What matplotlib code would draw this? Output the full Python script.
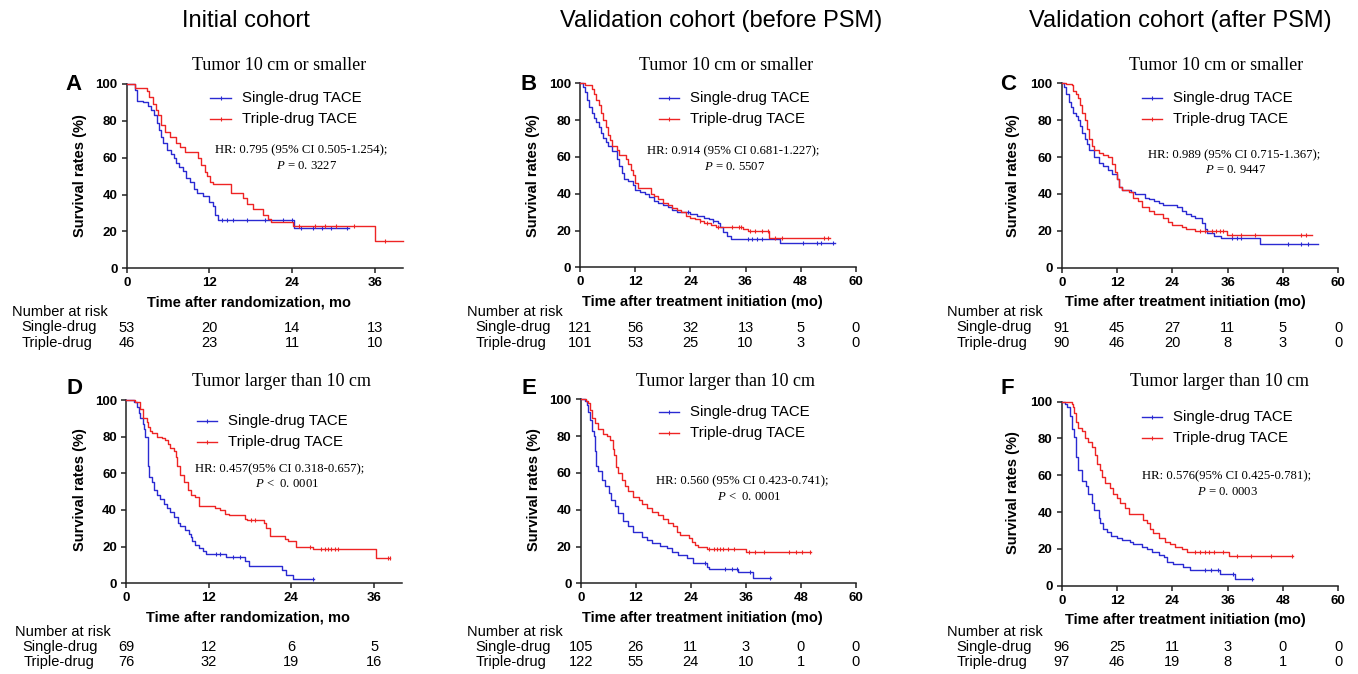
import matplotlib
matplotlib.use('Agg')
import matplotlib.pyplot as plt
from matplotlib.lines import Line2D
import matplotlib.transforms as mtransforms
import numpy as np

plt.rcParams['font.family'] = ['Liberation Sans', 'DejaVu Sans']
plt.rcParams['mathtext.fontset'] = 'custom'
plt.rcParams['mathtext.it'] = 'Liberation Serif:italic'
plt.rcParams['mathtext.rm'] = 'Liberation Serif'

# ---------------- data ----------------
column_titles = ["Initial cohort", "Validation cohort (before PSM)", "Validation cohort (after PSM)"]
series_names = ["Single-drug TACE", "Triple-drug TACE"]
risk_names = ["Single-drug", "Triple-drug"]

# Kaplan-Meier step points: (month, survival %)
A_single = [(0,100),(1.2,97),(1.5,91),(2.4,90),(3.1,88),(3.5,86),(4.0,83),(4.4,79),(4.7,75),(5.0,71),(5.3,68),(5.8,64),(6.4,62),(6.8,60),(7.2,57),(7.6,55),(8.1,53),(8.6,49),(9.2,47),(9.7,43),(10.2,41),(11.0,39),(12.0,36),(12.5,34),(12.8,29),(13.2,26),(24.3,22),(32.3,22)]
A_single_cens = [13.8, 14.5, 15.4, 17.5, 20.0, 22.7, 24.0, 25.3, 27.0, 28.3, 29.6, 32.0]
A_triple = [(0,100),(1.2,98),(3.0,96),(3.3,93),(3.8,89),(4.2,86),(4.6,83),(5.0,78),(5.6,74),(6.3,71),(7.2,68),(7.8,66),(8.4,63),(10.4,60),(10.8,56),(11.3,52.5),(11.7,50),(12.1,47),(12.5,45.5),(15.1,41),(16.9,38),(17.4,35),(18.3,32),(19.8,29),(20.5,27),(21.0,25),(24.1,23),(36.0,15),(40.0,15)]
A_triple_cens = [25.0, 27.3, 28.7, 30.3, 33.0, 37.5]

B_single = [(0,100),(0.5,98),(1,95),(1.5,91),(2,87),(2.5,84),(3,81),(3.5,79),(4,76),(4.5,73),(5,70),(5.5,68),(6,66),(7,63),(8,59),(8.5,55),(9,51),(9.5,48),(10.5,47),(11.5,45),(12,42),(13,41),(14,40),(15,38),(16,36),(17,35),(18,34),(19,33),(20,31),(21,30),(24,29),(25.5,28),(27,27),(28,26),(29,25),(30,24),(30.5,22),(31,19),(32,17),(32.8,15.5),(43.5,13),(55.5,13)]
B_single_cens = [23.5, 29.0, 36.5, 37.5, 38.5, 39.5, 48.5, 51.5, 52.5, 55.0]
B_triple = [(0,100),(1,99),(2.5,97),(3,94),(3.5,91),(4,88),(4.5,84),(5,80),(5.5,76),(6,72),(6.5,69),(7,66),(8,64),(8.5,61),(10,59),(10.5,56),(11,53),(11.5,50),(12,46),(12.5,43),(15.5,40),(16,39),(17,37),(18,35),(19,34),(20,32),(21,31),(22,30),(23,28),(24,27),(25,26),(26,25),(27,24),(28.5,23),(29.5,22),(35.5,21),(36.5,20),(41.2,16),(54.3,16)]
B_triple_cens = [26, 27.5, 30, 33, 34.5, 35, 37, 38, 39.5, 41, 42.5, 44, 53, 54]

C_single = [(0,100),(0.5,98),(1,94),(1.5,90),(2,87),(2.5,84),(3,82),(3.5,80),(4,77),(4.5,73),(5,70),(5.5,67),(6,64),(7,60),(8,57),(9,55),(10,53),(11,51),(12,48),(12.5,44),(13,42),(15,41),(16,40),(18,38),(19,37),(20,36),(21,35),(22,34),(25,33),(26,31),(27,29),(28,28),(29,27),(30.5,24),(31,21),(31.5,19),(33,17),(34.5,16),(43,13),(55.5,13)]
C_single_cens = [37, 38, 39, 49, 52, 53.5]
C_triple = [(0,100),(1,99.5),(2.3,99),(2.5,96),(3,94),(3.5,92),(4,88),(4.5,84),(5,80),(5.5,75),(6,70),(6.5,66),(7,64),(8,62),(9,61),(10,60),(11,56),(11.5,52),(12,48),(12.5,44),(13,42),(14.5,41),(15.5,38),(16.5,36),(17.5,33),(19,31),(20,29),(22,27),(23,25),(24,23),(26,22),(27,21),(28.9,20),(35.8,18),(54.4,18)]
C_triple_cens = [30, 31, 32.5, 33.5, 34.3, 35, 37, 39, 42, 52, 53]

D_single = [(0,100),(1.2,99),(1.6,96),(1.9,93),(2.1,90),(2.4,87),(2.6,84),(2.8,80),(3.15,72),(3.25,64),(3.35,58),(3.7,55),(4.0,51),(4.5,48),(4.9,46),(5.5,43),(6.0,41),(6.4,39),(7.0,36),(7.5,33),(7.9,31),(8.6,29),(9.2,27),(9.4,25),(9.6,23),(10.0,21),(10.6,19),(11.2,17.5),(11.6,16),(14.5,14.5),(17.3,12),(17.8,9.5),(22.6,7),(23.2,4.5),(24.3,2.5),(27.3,2.5)]
D_single_cens = [13.0, 13.6, 15.5, 16.5, 27.2]
D_triple = [(0,100),(1.3,99),(2.0,95),(2.4,90),(3.0,88),(3.2,85),(3.5,83),(3.7,82),(4.5,80),(5.2,79),(5.7,78),(6.1,76),(6.4,74),(7.0,72),(7.2,69),(7.4,64),(7.9,59),(8.4,55),(9.0,51),(9.5,48),(10.0,47),(10.6,42),(12.9,41),(13.6,40),(14.3,38),(14.9,37),(17.3,35),(17.6,34.5),(20.0,33),(20.3,30),(20.9,26),(23.0,24),(23.5,23),(24.6,20),(27.2,18.5),(36.3,13.6),(38.3,13.6)]
D_triple_cens = [18.2, 18.7, 26.7, 28.3, 28.8, 29.3, 29.8, 30.3, 30.8, 38.0, 38.3]

E_single = [(0,100),(0.9,99),(1.3,97),(1.6,93),(2.0,89),(2.4,83),(2.9,80),(3.1,72),(3.3,64),(3.8,61),(4.6,56),(5.3,53),(6.2,49),(6.7,45),(7.5,42),(8.2,38),(9.3,34),(10.4,31),(11.5,28),(13.3,25),(14.4,23.5),(15.5,22),(17.3,20.5),(18.7,19),(19.8,17),(21.3,15.4),(23.1,13.6),(24.5,11),(27.5,9),(27.9,8),(34.3,6.3),(37.6,3),(41.4,3)]
E_single_cens = [27.0, 31.5, 33.0, 34.0, 37.0, 41.2]
E_triple = [(0,100),(1.2,99),(1.6,98),(2.0,94),(2.4,90),(3.1,87),(3.8,84),(4.8,81),(5.7,80),(6.4,78),(7.0,73),(7.3,70),(7.8,63),(8.2,60),(8.9,56),(9.7,53),(10.4,50),(11.5,47),(12.6,45),(13.3,43),(14.4,41),(15.5,39),(16.9,37),(18.0,35),(19.1,33),(20.2,31),(20.9,28),(21.6,26),(23.5,24.5),(24.2,22.6),(24.9,21),(25.6,20),(27.5,18.7),(36.0,17),(50.1,17)]
E_triple_cens = [28.0, 29.0, 29.7, 30.3, 31.0, 32.0, 33.5, 36.7, 38.0, 40.0, 45.5, 47.0, 48.2, 50.0]

F_single = [(0,100),(0.7,99),(1.1,97),(1.7,92),(2.2,85),(2.7,81),(3.0,79),(3.2,70),(3.6,63),(4.3,57),(5.3,54),(5.8,50),(6.5,45),(7.0,41),(8.0,37),(8.4,34),(9.0,31),(9.8,29),(10.8,27),(11.9,26),(13.0,25),(14.8,23.6),(15.5,22.5),(17.4,21),(18.4,19.7),(19.5,18.5),(21.0,16.7),(22.1,15.8),(22.8,13),(24.2,11.6),(26.4,10.3),(27.8,8.5),(34.3,6.3),(37.6,3.6),(41.4,3.6)]
F_single_cens = [31.0, 32.3, 34.0, 37.2, 41.2]
F_triple = [(0,100),(2.2,99),(2.5,97),(2.7,94),(3.0,89),(3.6,85.5),(4.3,84),(5.1,80),(5.8,78),(6.5,75.5),(7.2,71),(7.6,66),(8.3,63),(8.7,59),(9.4,56),(10.5,53),(11.2,50),(11.9,47.5),(12.7,44.7),(13.7,42),(14.5,39),(17.7,35.7),(18.4,34),(19.2,31),(19.9,28.5),(21.0,25.7),(22.4,24),(23.5,22.6),(24.6,21),(26.0,20),(27.1,18.5),(36.2,16),(50.1,16)]
F_triple_cens = [29.0, 30.0, 31.0, 32.0, 33.0, 35.0, 38.0, 41.0, 45.5, 50.0]

# number at risk
A_risk_single = [53, 20, 14, 13]
A_risk_triple = [46, 23, 11, 10]
B_risk_single = [121, 56, 32, 13, 5, 0]
B_risk_triple = [101, 53, 25, 10, 3, 0]
C_risk_single = [91, 45, 27, 11, 5, 0]
C_risk_triple = [90, 46, 20, 8, 3, 0]
D_risk_single = [69, 12, 6, 5]
D_risk_triple = [76, 32, 19, 16]
E_risk_single = [105, 26, 11, 3, 0, 0]
E_risk_triple = [122, 55, 24, 10, 1, 0]
F_risk_single = [96, 25, 11, 3, 0, 0]
F_risk_triple = [97, 46, 19, 8, 1, 0]

ticks_initial = [0, 12, 24, 36]
ticks_valid = [0, 12, 24, 36, 48, 60]
y_ticks = [0, 20, 40, 60, 80, 100]

hr_texts = {
    'A': ("HR: 0.795 (95% CI 0.505-1.254);", "$P$ = 0. 3227"),
    'B': ("HR: 0.914 (95% CI 0.681-1.227);", "$P$ = 0. 5507"),
    'C': ("HR: 0.989 (95% CI 0.715-1.367);", "$P$ = 0. 9447"),
    'D': ("HR: 0.457(95% CI 0.318-0.657);", "$P$ <  0. 0001"),
    'E': ("HR: 0.560 (95% CI 0.423-0.741);", "$P$ <  0. 0001"),
    'F': ("HR: 0.576(95% CI 0.425-0.781);", "$P$ = 0. 0003"),
}
subtitles = {'A': "Tumor 10 cm or smaller", 'B': "Tumor 10 cm or smaller", 'C': "Tumor 10 cm or smaller",
             'D': "Tumor larger than 10 cm", 'E': "Tumor larger than 10 cm", 'F': "Tumor larger than 10 cm"}
xlabels = {'A': "Time after randomization, mo", 'D': "Time after randomization, mo",
           'B': "Time after treatment initiation (mo)", 'C': "Time after treatment initiation (mo)",
           'E': "Time after treatment initiation (mo)", 'F': "Time after treatment initiation (mo)"}

# ---------------- layout (pixels) ----------------
W, H = 1358, 674
BLUE = '#2a2ad2'
RED = '#ee2424'

fig = plt.figure(figsize=(W / 100, H / 100), dpi=100)

def fx(x):
    return x / W

def fy(y):
    return 1 - y / H

layout = {
    'A': dict(ax=(126.7, 402.5, 84, 268.3), xmax=40, ticks=ticks_initial,
              curves=(A_single, A_single_cens, A_triple, A_triple_cens), risk=(A_risk_single, A_risk_triple),
              letter=(74, 84), sub=(279, 66), leg=(210, 231, 242, 98, 119), hr=(301, 150, 307, 166),
              xl=(249, 303), yl=(80, 176), nr=(12, 21, 312, 327.5, 342.7)),
    'B': dict(ax=(580.3, 855.7, 83.3, 267.3), xmax=60, ticks=ticks_valid,
              curves=(B_single, B_single_cens, B_triple, B_triple_cens), risk=(B_risk_single, B_risk_triple),
              letter=(529, 84), sub=(726, 66), leg=(659, 679, 690, 98, 119), hr=(733, 151, 735, 166.5),
              xl=(702, 302), yl=(533, 176), nr=(466.7, 475, 312, 327.5, 342.7)),
    'C': dict(ax=(1061.7, 1338.3, 83.3, 267.7), xmax=60, ticks=ticks_valid,
              curves=(C_single, C_single_cens, C_triple, C_triple_cens), risk=(C_risk_single, C_risk_triple),
              letter=(1008, 84), sub=(1216, 66), leg=(1142, 1162, 1173, 98, 119), hr=(1234.5, 155, 1235.5, 170),
              xl=(1185, 302), yl=(1013, 176), nr=(947, 956, 312, 327.5, 342.7)),
    'D': dict(ax=(126, 401.7, 400, 583.3), xmax=40, ticks=ticks_initial,
              curves=(D_single, D_single_cens, D_triple, D_triple_cens), risk=(D_risk_single, D_risk_triple),
              letter=(74, 389), sub=(281, 382), leg=(197, 217, 228, 421, 441.7), hr=(280, 469, 287, 484.3),
              xl=(248, 617.7), yl=(80, 490), nr=(15, 22.7, 631.7, 646.7, 661.7)),
    'E': dict(ax=(580.7, 856, 399.3, 583.3), xmax=60, ticks=ticks_valid,
              curves=(E_single, E_single_cens, E_triple, E_triple_cens), risk=(E_risk_single, E_risk_triple),
              letter=(529, 389), sub=(726, 382), leg=(659, 679, 690, 411.7, 433.3), hr=(742, 481.7, 748.7, 496.7),
              xl=(702.5, 617.7), yl=(534, 490), nr=(466.7, 475, 631.7, 646.7, 661.7)),
    'F': dict(ax=(1061.7, 1338.3, 401.7, 585.7), xmax=60, ticks=ticks_valid,
              curves=(F_single, F_single_cens, F_triple, F_triple_cens), risk=(F_risk_single, F_risk_triple),
              letter=(1007, 389), sub=(1220, 382), leg=(1142, 1162, 1173, 416.7, 437.7), hr=(1227, 476.7, 1228, 492.3),
              xl=(1185, 620), yl=(1013, 493), nr=(947, 956, 631.7, 646.7, 661.7)),
}

TICK_FS = 9.5
LAB_FS = 10.5
LEG_FS = 10.8
RISK_FS = 10.5
HR_FS = 9.2
SUB_FS = 13


def draw_km(ax, pts, cens, color):
    t = np.array([p[0] for p in pts])
    s = np.array([p[1] for p in pts])
    ax.step(t, s, where='post', color=color, lw=1.0, clip_on=False, zorder=3)
    c = np.array(cens)
    idx = np.searchsorted(t, c, side='right') - 1
    ax.plot(c, s[idx], ls='none', marker='|', ms=3.5, mew=0.8, color=color, clip_on=False, zorder=3)


for key, L in layout.items():
    x0, x1, yt, yb = L['ax']
    ax = fig.add_axes([fx(x0), fy(yb), (x1 - x0) / W, (yb - yt) / H])
    ax.set_xlim(0, L['xmax'])
    ax.set_ylim(0, 100)
    for sp in ('top', 'right'):
        ax.spines[sp].set_visible(False)
    for sp in ('left', 'bottom'):
        ax.spines[sp].set_linewidth(1.1)
        ax.spines[sp].set_color('#222222')
    ax.set_xticks(L['ticks'])
    ax.set_yticks(y_ticks)
    ax.tick_params(axis='both', labelsize=TICK_FS, length=3.5, width=1.1, pad=3, color='#222222')
    for lbl in ax.get_xticklabels() + ax.get_yticklabels():
        lbl.set_fontweight('bold')
    s_pts, s_c, t_pts, t_c = L['curves']
    draw_km(ax, s_pts, s_c, BLUE)
    draw_km(ax, t_pts, t_c, RED)

    fig.text(fx(L['letter'][0]), fy(L['letter'][1]), key, fontsize=16, fontweight='bold', ha='center', va='center')
    fig.text(fx(L['sub'][0]), fy(L['sub'][1]), subtitles[key], fontsize=SUB_FS, family='Liberation Serif',
             ha='center', va='center')
    lx0, lx1, tx, ly1, ly2 = L['leg']
    for (ly, col, name) in ((ly1, BLUE, series_names[0]), (ly2, RED, series_names[1])):
        fig.add_artist(Line2D([fx(lx0), fx(lx1)], [fy(ly), fy(ly)], color=col, lw=1.0, transform=fig.transFigure))
        fig.add_artist(Line2D([fx((lx0 + lx1) / 2)], [fy(ly)], color=col, marker='|', ms=3, mew=0.8,
                              transform=fig.transFigure))
        fig.text(fx(tx), fy(ly), name, fontsize=LEG_FS, ha='left', va='center')
    h1, h2 = hr_texts[key]
    fig.text(fx(L['hr'][0]), fy(L['hr'][1]), h1, fontsize=HR_FS, family='Liberation Serif', ha='center', va='center')
    fig.text(fx(L['hr'][2]), fy(L['hr'][3]), h2, fontsize=HR_FS, family='Liberation Serif', ha='center', va='center')
    fig.text(fx(L['xl'][0]), fy(L['xl'][1]), xlabels[key], fontsize=LAB_FS, fontweight='bold', ha='center', va='center')
    fig.text(fx(L['yl'][0]), fy(L['yl'][1]), "Survival rates (%)", fontsize=LAB_FS, fontweight='bold',
             ha='center', va='center', rotation=90)
    nx0, nx1, ny0, ny1, ny2 = L['nr']
    fig.text(fx(nx0), fy(ny0), "Number at risk", fontsize=RISK_FS, ha='left', va='center')
    fig.text(fx(nx1), fy(ny1), risk_names[0], fontsize=RISK_FS, ha='left', va='center')
    fig.text(fx(nx1 + 1), fy(ny2), risk_names[1], fontsize=RISK_FS, ha='left', va='center')
    trans = mtransforms.blended_transform_factory(ax.transData, fig.transFigure)
    rs, rt = L['risk']
    for tk, a, b in zip(L['ticks'], rs, rt):
        ax.text(tk, fy(ny1), str(a), fontsize=RISK_FS, ha='center', va='center', transform=trans, clip_on=False)
        ax.text(tk, fy(ny2), str(b), fontsize=RISK_FS, ha='center', va='center', transform=trans, clip_on=False)

for cx, title in zip((246, 721, 1180), column_titles):
    fig.text(fx(cx), fy(21), title, fontsize=17, ha='center', va='center')

fig.savefig('out.png', dpi=100)
